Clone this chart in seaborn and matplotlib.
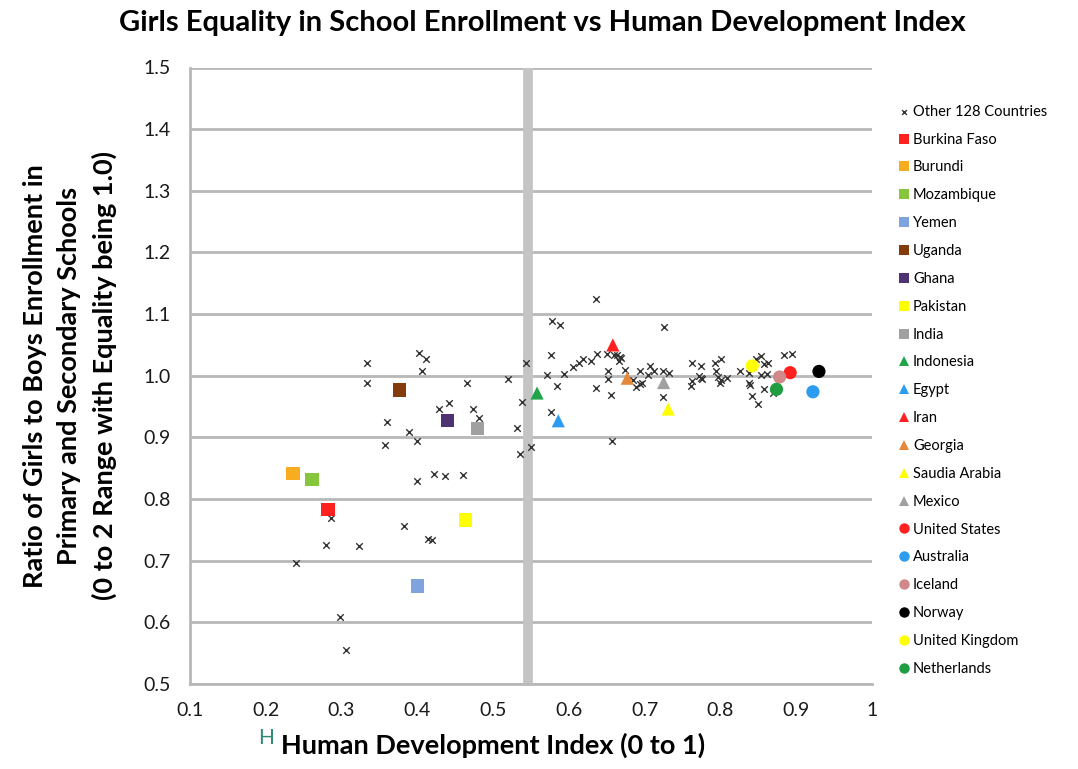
import seaborn as sns
import pandas as pd
import numpy as np
import matplotlib
matplotlib.use("Agg")
import matplotlib.pyplot as plt

# other countries (HDI, girls/boys enrollment ratio)
other_hdi = [0.333, 0.402, 0.411, 0.406, 0.544, 0.334, 0.466, 0.520, 0.538, 0.428,
             0.442, 0.473, 0.481, 0.360, 0.389, 0.399, 0.357, 0.532, 0.550, 0.535,
             0.422, 0.437, 0.460, 0.400, 0.286, 0.382, 0.414, 0.419, 0.279, 0.323,
             0.240, 0.298, 0.306,
             0.636, 0.578, 0.588, 0.576, 0.637, 0.650, 0.660, 0.667, 0.664, 0.669,
             0.666, 0.629, 0.619, 0.613, 0.605, 0.593, 0.571, 0.651, 0.651, 0.674,
             0.694, 0.705, 0.685, 0.694, 0.697, 0.689, 0.584, 0.636, 0.655, 0.576,
             0.657,
             0.726, 0.707, 0.712, 0.724, 0.732, 0.724, 0.763, 0.774, 0.774, 0.772,
             0.776, 0.763, 0.761, 0.793, 0.801, 0.794, 0.797, 0.801, 0.808, 0.799,
             0.826,
             0.853, 0.847, 0.857, 0.863, 0.884, 0.895, 0.838, 0.854, 0.861, 0.838,
             0.839, 0.857, 0.841, 0.850, 0.870]
other_ratio = [1.020, 1.037, 1.027, 1.008, 1.020, 0.988, 0.988, 0.994, 0.957, 0.946,
               0.955, 0.946, 0.931, 0.925, 0.908, 0.894, 0.888, 0.916, 0.884, 0.873,
               0.841, 0.837, 0.839, 0.829, 0.770, 0.756, 0.735, 0.734, 0.725, 0.724,
               0.697, 0.609, 0.555,
               1.124, 1.088, 1.082, 1.033, 1.036, 1.035, 1.034, 1.031, 1.033, 1.028,
               1.024, 1.024, 1.027, 1.020, 1.015, 1.003, 1.001, 1.008, 0.994, 1.010,
               1.008, 1.001, 0.993, 0.986, 0.988, 0.981, 0.984, 0.980, 0.969, 0.942,
               0.894,
               1.079, 1.016, 1.007, 1.007, 1.004, 0.965, 1.020, 1.016, 0.996, 0.999,
               0.994, 0.992, 0.983, 1.020, 1.027, 1.007, 0.998, 0.993, 0.996, 0.989,
               1.008,
               1.032, 1.027, 1.019, 1.021, 1.034, 1.036, 1.005, 1.001, 1.003, 0.988,
               0.985, 0.978, 0.967, 0.954, 0.972]

# highlighted countries
countries = ["Burkina Faso", "Burundi", "Mozambique", "Yemen", "Uganda", "Ghana",
             "Pakistan", "India", "Indonesia", "Egypt", "Iran", "Georgia",
             "Saudia Arabia", "Mexico", "United States", "Australia", "Iceland",
             "Norway", "United Kingdom", "Netherlands"]
country_hdi = [0.282, 0.236, 0.261, 0.400, 0.377, 0.440, 0.464, 0.479, 0.558, 0.586,
               0.658, 0.677, 0.731, 0.725, 0.892, 0.922, 0.878, 0.930, 0.842, 0.874]
country_ratio = [0.783, 0.841, 0.832, 0.659, 0.977, 0.927, 0.766, 0.914, 0.972, 0.927,
                 1.050, 0.996, 0.946, 0.989, 1.005, 0.974, 0.998, 1.007, 1.016, 0.978]
colors = ["#ff2020", "#f7ad1f", "#86c63c", "#7fa3dc", "#843c0c", "#4e3272",
          "#ffff00", "#a0a0a0", "#1fa64a", "#2b9cf0", "#ff2020", "#e5883a",
          "#ffff00", "#a0a0a0", "#ff2020", "#2b9cf0", "#d08888", "#000000",
          "#ffff00", "#1e9e40"]
shapes = ["s"] * 8 + ["^"] * 6 + ["o"] * 6

threshold = 0.546
yticks = [0.5, 0.6, 0.7, 0.8, 0.9, 1.0, 1.1, 1.2, 1.3, 1.4, 1.5]
xticks = [0.1, 0.2, 0.3, 0.4, 0.5, 0.6, 0.7, 0.8, 0.9, 1.0]
xticklabels = ["0.1", "0.2", "0.3", "0.4", "0.5", "0.6", "0.7", "0.8", "0.9", "1"]

others = pd.DataFrame({"hdi": other_hdi, "ratio": other_ratio})
named = pd.DataFrame({"hdi": country_hdi, "ratio": country_ratio, "country": countries})

sns.set_style("white")
plt.rcParams["font.family"] = ["Lato", "DejaVu Sans"]
plt.rcParams["text.color"] = "black"

fig = plt.figure(figsize=(10.78, 7.69), dpi=100)
ax = fig.add_axes([190 / 1078, 1 - 684 / 769, 682 / 1078, 616.5 / 769])

for y in yticks:
    ax.axhline(y, color="#b8b8b8", lw=2, zorder=0)
ax.axvline(threshold, color="#c4c4c4", lw=7, zorder=1)

sns.scatterplot(data=others, x="hdi", y="ratio", marker="x", color="#333333",
                s=22, linewidth=1.0, ax=ax, label="Other 128 Countries", zorder=3)
sns.scatterplot(data=named, x="hdi", y="ratio", hue="country", style="country",
                hue_order=countries, style_order=countries,
                palette=dict(zip(countries, colors)),
                markers=dict(zip(countries, shapes)),
                s=90, linewidth=0, ax=ax, zorder=4)

ax.set_xlim(0.1, 1.0)
ax.set_ylim(0.5, 1.5)
ax.set_xticks(xticks)
ax.set_xticklabels(xticklabels)
ax.set_yticks(yticks)
ax.set_yticklabels([f"{v:.1f}" for v in yticks])
ax.tick_params(axis="x", direction="in", length=6, width=1.5, color="#b8b8b8",
               labelsize=14, labelcolor="#1a1a1a", pad=13)
ax.tick_params(axis="y", length=0, labelsize=14, labelcolor="#1a1a1a", pad=14)
for s in ["top", "right"]:
    ax.spines[s].set_visible(False)
for s in ["left", "bottom"]:
    ax.spines[s].set_color("#b8b8b8")
    ax.spines[s].set_linewidth(2)

ax.set_xlabel("Human Development Index (0 to 1)", fontsize=19.5, fontweight="bold",
              va="center", color="black")
ax.xaxis.set_label_coords(0.445, -0.099)
ax.set_ylabel("Ratio of Girls to Boys Enrollment in\nPrimary and Secondary Schools\n"
              "(0 to 2 Range with Equality being 1.0)", fontsize=19.5, fontweight="bold",
              linespacing=1.5, va="center", color="black")
ax.yaxis.set_label_coords(-0.176, 0.5)
fig.text(266 / 1078, 1 - 738 / 769, "H", color="#2e8b74", fontsize=15,
         ha="center", va="center")
fig.suptitle("Girls Equality in School Enrollment vs Human Development Index",
             x=0.503, y=1 - 23 / 769, va="center", fontsize=21, fontweight="bold",
             color="black")

handles, labels = ax.get_legend_handles_labels()
leg = ax.legend(handles, labels, loc="upper left", bbox_to_anchor=(1.028, 0.949),
                frameon=False, fontsize=10.5, labelspacing=0.95, handletextpad=0.1,
                handlelength=1.0, borderaxespad=0)
for t in leg.get_texts():
    t.set_color("black")
for h in leg.legend_handles:
    if h.get_label() == "Other 128 Countries":
        if hasattr(h, "set_sizes"):
            h.set_sizes([12])
        else:
            h.set_markersize(3.5)
    elif hasattr(h, "set_markersize"):
        h.set_markersize(7.5)

fig.savefig("out.png", dpi=100)
